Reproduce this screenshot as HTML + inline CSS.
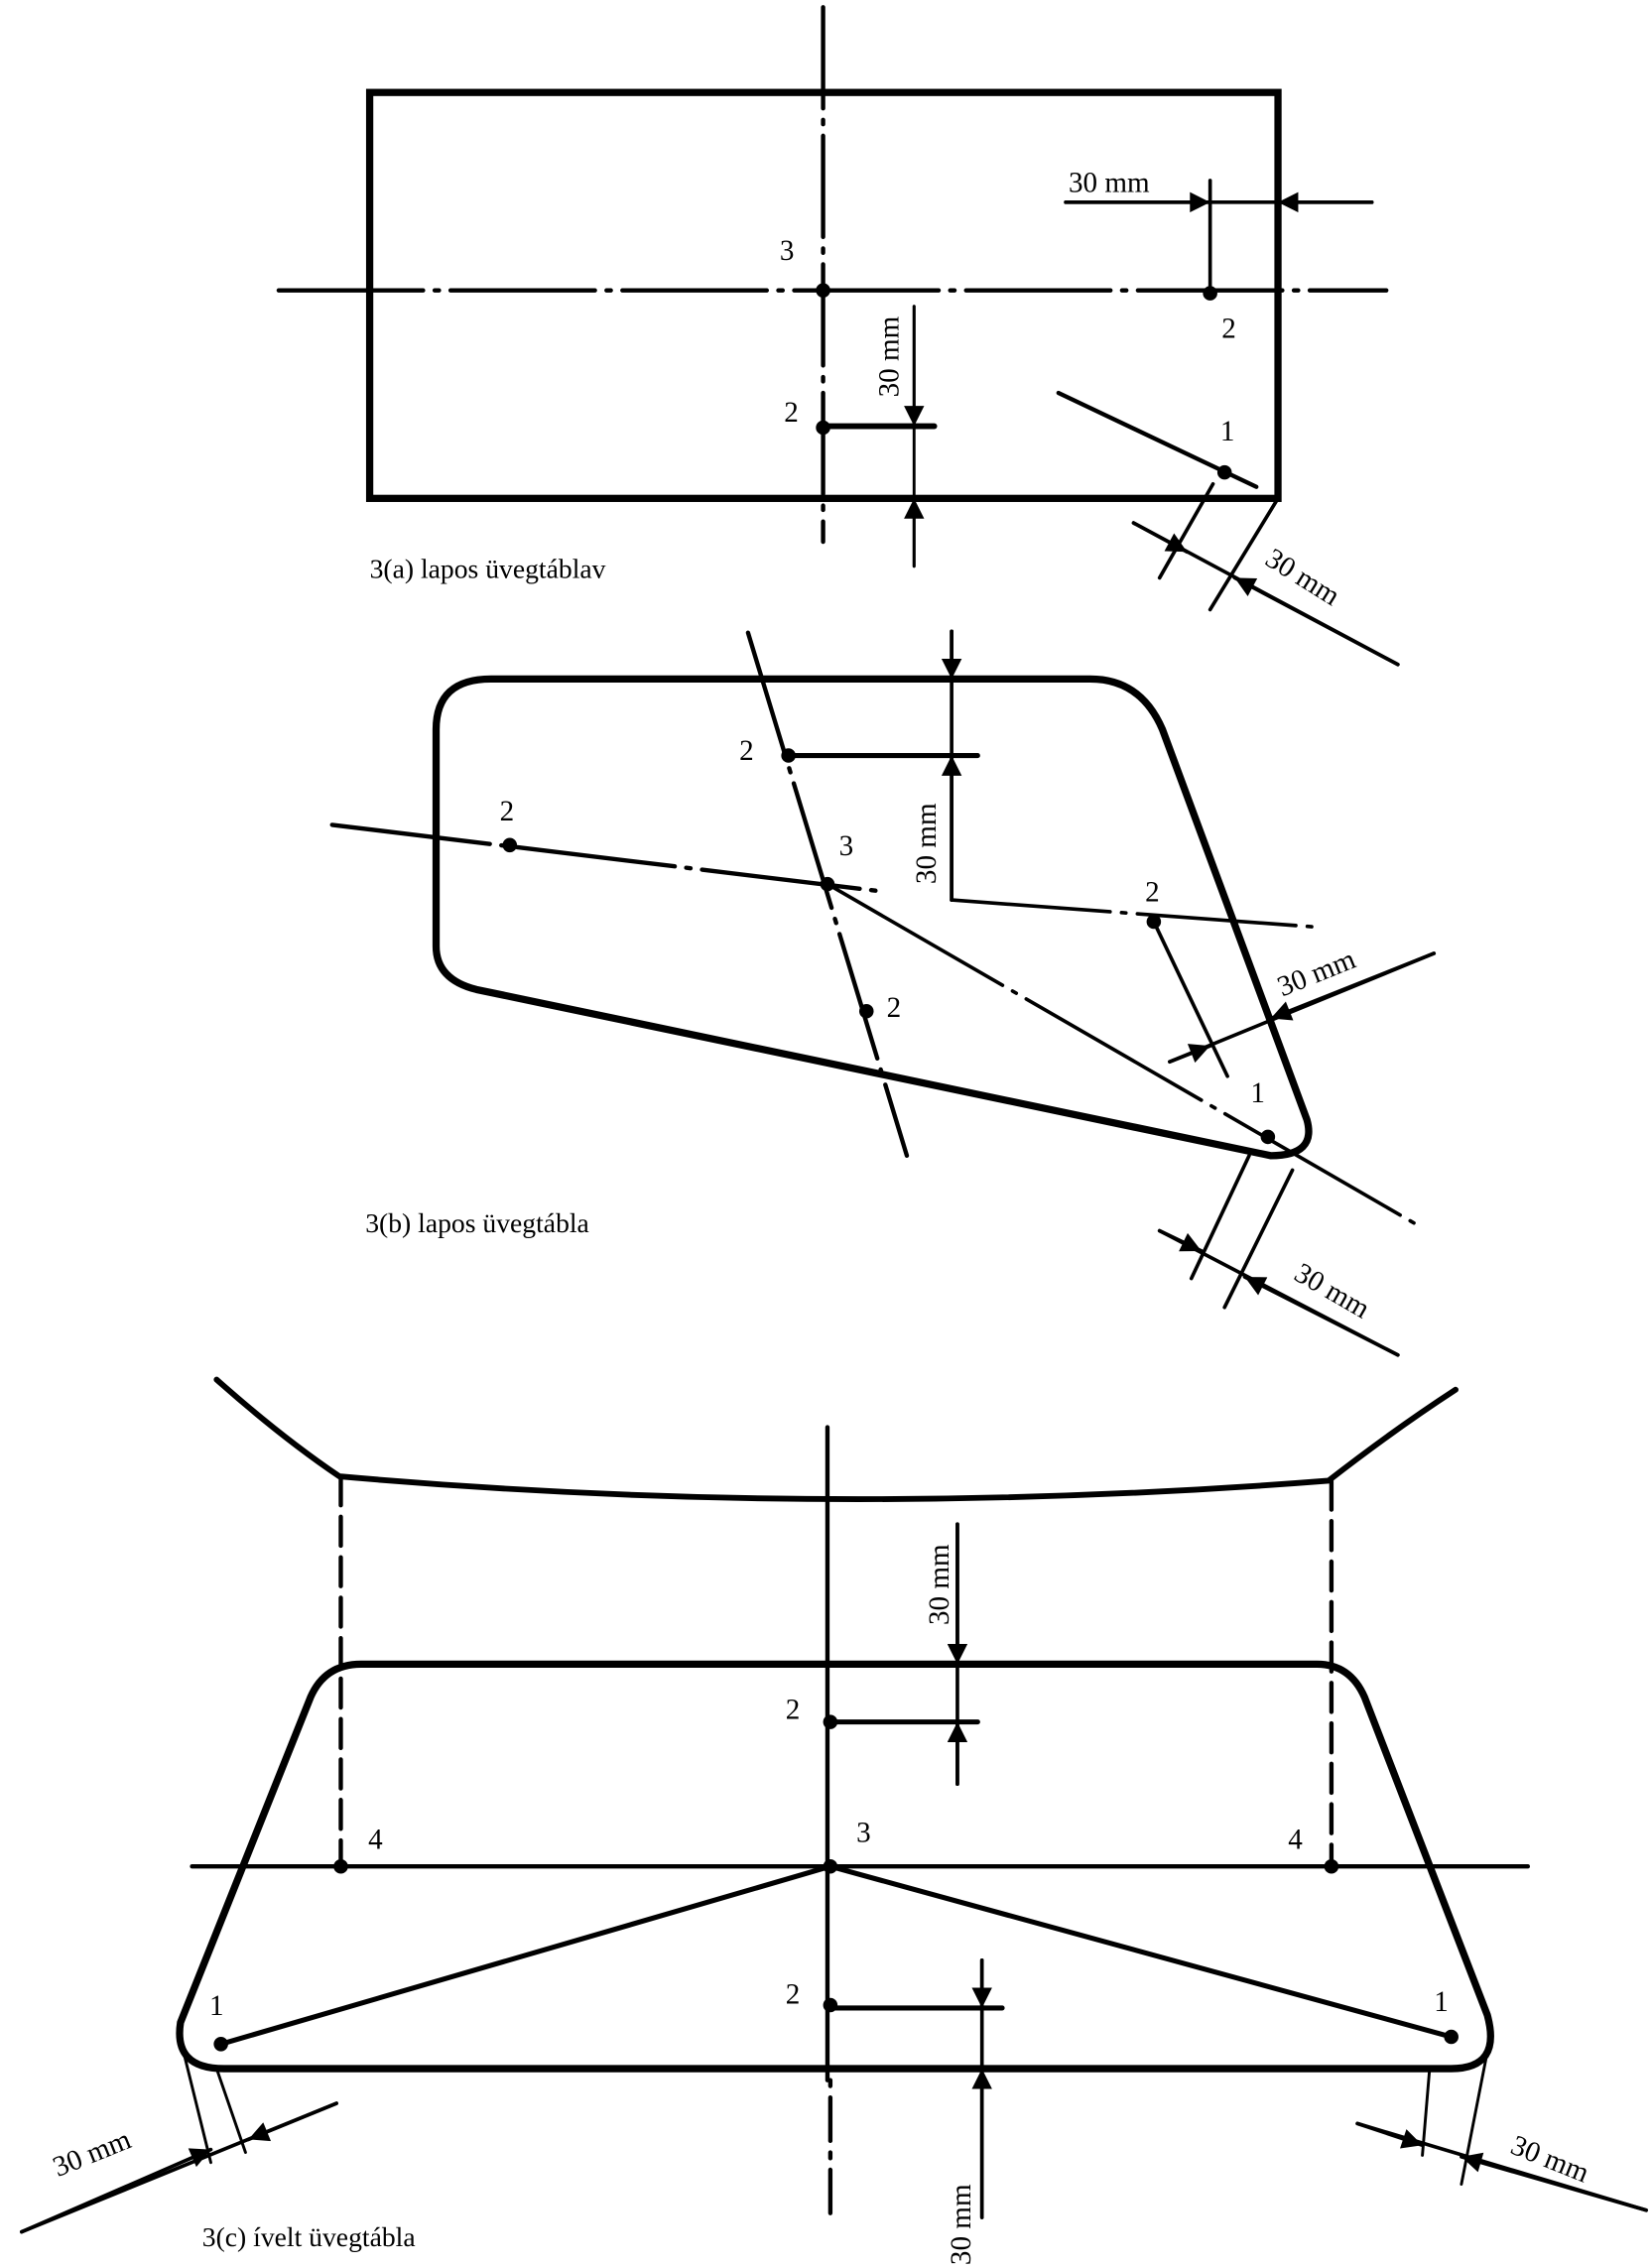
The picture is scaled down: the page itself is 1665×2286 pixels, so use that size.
<!DOCTYPE html>
<html><head><meta charset="utf-8"><style>
html,body{margin:0;padding:0;background:#fff;}
svg{display:block;}
text{font-family:"Liberation Serif",serif;fill:#000;}
</style></head><body>
<svg width="1665" height="2286" viewBox="0 0 1144 1570" preserveAspectRatio="none" xmlns="http://www.w3.org/2000/svg">
<defs>
<marker id="b" viewBox="0 0 10 10" refX="10" refY="5" markerWidth="22" markerHeight="14" orient="auto-start-reverse" markerUnits="userSpaceOnUse"><path d="M0,0 L10,5 L0,10 Z"/></marker>
</defs>
<g stroke="#000" fill="none" stroke-linecap="round">
<!-- (a) -->
<rect x="256" y="64" width="629" height="281" stroke-width="5"/>
<line x1="570" y1="5" x2="570" y2="375" stroke-width="3" stroke-dasharray="70,8,3,8"/>
<line x1="193" y1="201" x2="960" y2="201" stroke-width="3" stroke-dasharray="100,8,3,8"/>
<line x1="838" y1="203" x2="838" y2="125" stroke-width="2.5"/>
<line x1="738" y1="140" x2="950" y2="140" stroke-width="2.5"/>
<line x1="738" y1="140" x2="838" y2="140" stroke-width="2.5" marker-end="url(#b)"/>
<line x1="950" y1="140" x2="885" y2="140" stroke-width="2.5" marker-end="url(#b)"/>
<line x1="570" y1="295" x2="647" y2="295" stroke-width="4"/>
<line x1="633" y1="212" x2="633" y2="392" stroke-width="2"/>
<line x1="633" y1="212" x2="633" y2="295" stroke-width="2" marker-end="url(#b)"/>
<line x1="633" y1="392" x2="633" y2="345" stroke-width="2" marker-end="url(#b)"/>
<line x1="733" y1="272" x2="870" y2="337" stroke-width="3"/>
<line x1="840" y1="335" x2="803" y2="400" stroke-width="2.5"/>
<line x1="885" y1="345" x2="838" y2="422" stroke-width="2.5"/>
<line x1="785" y1="362" x2="968" y2="460" stroke-width="2.5"/>
<line x1="785" y1="362" x2="822" y2="382" stroke-width="2.5" marker-end="url(#b)"/>
<line x1="968" y1="460" x2="855" y2="400" stroke-width="2.5" marker-end="url(#b)"/>
<!-- (b) -->
<path d="M340 470 L755 470 Q790 470 805 505 L905 775 Q912 800 880 800 L330 685 Q302 678 302 655 L302 505 Q302 470 340 470 Z" stroke-width="5"/>
<line x1="518" y1="438" x2="628" y2="800" stroke-width="3" stroke-dasharray="90,8,3,8"/>
<line x1="546" y1="523" x2="677" y2="523" stroke-width="3.5"/>
<line x1="659" y1="437" x2="659" y2="623" stroke-width="2.5"/>
<line x1="659" y1="437" x2="659" y2="470" stroke-width="2.5" marker-end="url(#b)"/>
<line x1="659" y1="623" x2="659" y2="523" stroke-width="2.5" marker-end="url(#b)"/>
<polyline points="659,623 915,642" stroke-width="2.5" stroke-dasharray="110,8,3,8"/>
<line x1="230" y1="571" x2="610" y2="617" stroke-width="3" stroke-dasharray="110,8,3,8"/>
<line x1="573" y1="612" x2="985" y2="850" stroke-width="2.5" stroke-dasharray="140,8,3,8"/>
<line x1="799" y1="638" x2="850" y2="745" stroke-width="2.5"/>
<line x1="810" y1="735" x2="993" y2="660" stroke-width="2.5"/>
<line x1="810" y1="735" x2="838" y2="724" stroke-width="2.5" marker-end="url(#b)"/>
<line x1="993" y1="660" x2="880" y2="705" stroke-width="2.5" marker-end="url(#b)"/>
<line x1="865" y1="800" x2="825" y2="885" stroke-width="2.5"/>
<line x1="895" y1="810" x2="848" y2="905" stroke-width="2.5"/>
<line x1="803" y1="852" x2="968" y2="938" stroke-width="2.5"/>
<line x1="803" y1="852" x2="832" y2="866" stroke-width="2.5" marker-end="url(#b)"/>
<line x1="968" y1="938" x2="862" y2="884" stroke-width="2.5" marker-end="url(#b)"/>
<!-- (c) -->
<path d="M150 955 Q195 995 235 1022 Q575 1052 920 1025 Q965 990 1008 962" stroke-width="4"/>
<line x1="236" y1="1022" x2="236" y2="1290" stroke-width="3" stroke-dasharray="20,8"/>
<line x1="922" y1="1025" x2="922" y2="1290" stroke-width="3" stroke-dasharray="20,8"/>
<path d="M250 1152 L912 1152 Q935 1152 945 1175 L1030 1395 Q1040 1432 1005 1432 L155 1432 Q120 1432 125 1400 L215 1175 Q225 1152 250 1152 Z" stroke-width="5"/>
<line x1="573" y1="988" x2="573" y2="1440" stroke-width="3"/>
<line x1="575" y1="1440" x2="575" y2="1532" stroke-width="3" stroke-dasharray="4,8,30,8"/>
<line x1="133" y1="1292" x2="1058" y2="1292" stroke-width="3"/>
<line x1="575" y1="1292" x2="153" y2="1415" stroke-width="3.5"/>
<line x1="575" y1="1292" x2="1005" y2="1410" stroke-width="3.5"/>
<line x1="575" y1="1192" x2="677" y2="1192" stroke-width="3.5"/>
<line x1="663" y1="1055" x2="663" y2="1235" stroke-width="2.5"/>
<line x1="663" y1="1055" x2="663" y2="1152" stroke-width="2.5" marker-end="url(#b)"/>
<line x1="663" y1="1235" x2="663" y2="1192" stroke-width="2.5" marker-end="url(#b)"/>
<line x1="575" y1="1390" x2="694" y2="1390" stroke-width="3.5"/>
<line x1="680" y1="1357" x2="680" y2="1535" stroke-width="2.5"/>
<line x1="680" y1="1357" x2="680" y2="1390" stroke-width="2.5" marker-end="url(#b)"/>
<line x1="680" y1="1535" x2="680" y2="1432" stroke-width="2.5" marker-end="url(#b)"/>
<line x1="127" y1="1420" x2="146" y2="1497" stroke-width="2"/>
<line x1="150" y1="1432" x2="170" y2="1490" stroke-width="2"/>
<line x1="15" y1="1545" x2="233" y2="1456" stroke-width="2.5"/>
<line x1="15" y1="1545" x2="146" y2="1488" stroke-width="2.5" marker-end="url(#b)"/>
<line x1="233" y1="1456" x2="172" y2="1481" stroke-width="2.5" marker-end="url(#b)"/>
<line x1="990" y1="1432" x2="985" y2="1492" stroke-width="2"/>
<line x1="1032" y1="1410" x2="1012" y2="1512" stroke-width="2"/>
<line x1="940" y1="1470" x2="1140" y2="1530" stroke-width="2.5"/>
<line x1="940" y1="1470" x2="985" y2="1485" stroke-width="2.5" marker-end="url(#b)"/>
<line x1="1140" y1="1530" x2="1012" y2="1493" stroke-width="2.5" marker-end="url(#b)"/>
</g>
<g fill="#000">
<circle cx="570" cy="201" r="5"/><circle cx="838" cy="203" r="5"/><circle cx="570" cy="296" r="5"/><circle cx="848" cy="327" r="5"/>
<circle cx="546" cy="523" r="5"/><circle cx="353" cy="585" r="5"/><circle cx="573" cy="612" r="5"/><circle cx="600" cy="700" r="5"/><circle cx="799" cy="638" r="5"/><circle cx="878" cy="787" r="5"/>
<circle cx="236" cy="1292" r="5"/><circle cx="922" cy="1292" r="5"/><circle cx="575" cy="1292" r="5"/><circle cx="575" cy="1192" r="5"/><circle cx="575" cy="1388" r="5"/><circle cx="153" cy="1415" r="5"/><circle cx="1005" cy="1410" r="5"/>
</g>
<g font-size="20">
<text x="540" y="180">3</text><text x="846" y="234">2</text><text x="543" y="292">2</text><text x="845" y="305">1</text>
<text x="740" y="133">30 mm</text>
<text transform="translate(622,275) rotate(-90)">30 mm</text>
<text transform="translate(875,390) rotate(32)">30 mm</text>
<text x="256" y="400" font-size="19">3(a) lapos üvegtáblav</text>
<text x="512" y="526">2</text><text x="346" y="568">2</text><text x="581" y="592">3</text><text x="614" y="704">2</text><text x="793" y="624">2</text><text x="866" y="763">1</text>
<text transform="translate(648,612) rotate(-90)">30 mm</text>
<text transform="translate(888,690) rotate(-22)">30 mm</text>
<text transform="translate(895,885) rotate(30)">30 mm</text>
<text x="253" y="853" font-size="19">3(b) lapos üvegtábla</text>
<text x="255" y="1280">4</text><text x="892" y="1280">4</text><text x="593" y="1275">3</text>
<text x="544" y="1190">2</text><text x="544" y="1387">2</text>
<text x="145" y="1395">1</text><text x="993" y="1392">1</text>
<text transform="translate(657,1125) rotate(-90)">30 mm</text>
<text transform="translate(672,1568) rotate(-90)">30 mm</text>
<text transform="translate(40,1507) rotate(-22)">30 mm</text>
<text transform="translate(1045,1490) rotate(22)">30 mm</text>
<text x="140" y="1555" font-size="19">3(c) ívelt üvegtábla</text>
</g>
</svg>
</body></html>
